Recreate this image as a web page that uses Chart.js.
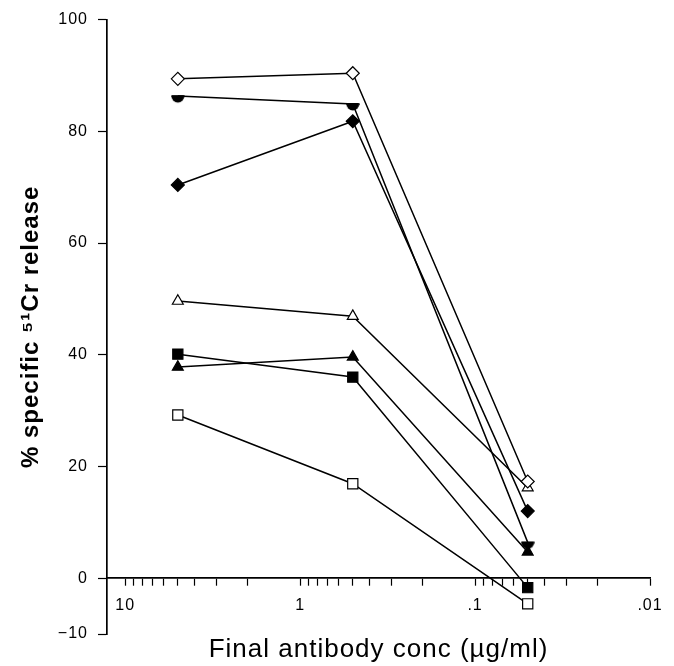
<!DOCTYPE html>
<html>
<head>
<meta charset="utf-8">
<script src="https://cdn.jsdelivr.net/npm/chart.js@4/dist/chart.umd.min.js"></script>
<style>
html,body{margin:0;padding:0;background:#fff;}
#wrap{width:674px;height:666px;position:relative;}
</style>
</head>
<body>
<div id="wrap"><canvas id="c"></canvas></div>
<script>
// ---- data ----
const concentrations = [5, 0.5, 0.05];               // µg/ml
const openDiamond    = [89.4, 90.4, 17.3];
const halfCircle     = [86.3, 84.9, 6.4];
const filledDiamond  = [70.4, 81.8, 12.0];
const openTriangle   = [49.6, 46.9, 16.2];
const filledSquare   = [40.1, 36.0, -1.7];
const filledTriangle = [37.8, 39.6, 4.7];
const openSquare     = [29.2, 16.9, -4.6];

const xMajorTicks = [10, 1, 0.1, 0.01];
const xMajorTickLabels = ['10', '1', '.1', '.01'];
const xMinorTicks = [9, 8, 7, 6, 5, 4, 3, 2, 0.9, 0.8, 0.7, 0.6, 0.5, 0.4, 0.3, 0.2,
                     0.09, 0.08, 0.07, 0.06, 0.05, 0.04, 0.03, 0.02];
const yTickValues = [-10, 0, 20, 40, 60, 80, 100];
const yTickLabels = ['\u221210', '0', '20', '40', '60', '80', '100'];

const xTitle = 'Final antibody conc (\u00b5g/ml)';
const yTitle = '% specific \u2075\u00b9Cr release';

// ---- custom half-filled circle marker ----
function halfCircleMarker() {
  const c = document.createElement('canvas');
  c.width = 14; c.height = 16;
  const g = c.getContext('2d');
  g.fillStyle = '#000';
  g.beginPath();
  g.moveTo(0.5, 8);
  g.lineTo(13.5, 8);
  g.arc(7, 8, 6.5, 0, Math.PI);
  g.closePath();
  g.fill();
  g.fillRect(0.5, 7, 13, 2);
  return c;
}

const FONT = '"Liberation Sans", Arial, Helvetica, sans-serif';
const pts = vals => concentrations.map((x, i) => ({x: x, y: vals[i]}));

function ds(label, vals, style, radius, filled) {
  return {
    label: label,
    data: pts(vals),
    borderColor: '#000',
    borderWidth: 1.5,
    pointStyle: style,
    pointRadius: radius,
    pointHoverRadius: radius,
    pointBackgroundColor: filled ? '#000' : '#fff',
    pointBorderColor: '#000',
    pointBorderWidth: 1.2,
    fill: false,
    tension: 0
  };
}

const semi = halfCircleMarker();

// wider letter spacing like the typeset original
const spacingPlugin = {
  id: 'spacing',
  beforeLayout(chart) { chart.ctx.letterSpacing = '1px'; },
  beforeDraw(chart) { chart.ctx.letterSpacing = '1px'; }
};

new Chart(document.getElementById('c'), {
  type: 'line',
  plugins: [spacingPlugin],
  data: {
    datasets: [
      ds('open diamond', openDiamond, 'rectRot', 6.5, false),
      ds('half circle', halfCircle, semi, 7, true),
      ds('filled diamond', filledDiamond, 'rectRot', 6.5, true),
      ds('open triangle', openTriangle, 'triangle', 6.3, false),
      ds('filled square', filledSquare, 'rect', 7.2, true),
      ds('filled triangle', filledTriangle, 'triangle', 6.3, true),
      ds('open square', openSquare, 'rect', 7.2, false)
    ]
  },
  options: {
    responsive: true,
    maintainAspectRatio: false,
    animation: false,
    devicePixelRatio: 1,
    layout: {padding: {top: 19, right: 24, left: 0, bottom: 0}},
    plugins: {legend: {display: false}, tooltip: {enabled: false}},
    scales: {
      x: {
        type: 'logarithmic',
        reverse: true,
        min: 0.01,
        max: 12.7,
        position: {y: 0},
        afterFit: s => { s.height = 0; },
        afterBuildTicks: s => {
          const all = xMajorTicks.concat(xMinorTicks).sort((a, b) => b - a);
          s.ticks = all.map(v => ({value: v, major: xMajorTicks.includes(v)}));
        },
        ticks: {
          autoSkip: false, maxRotation: 0, minRotation: 0,
          padding: 11, color: '#000',
          font: {family: FONT, size: 16},
          callback: v => { const i = xMajorTicks.indexOf(v); return i >= 0 ? xMajorTickLabels[i] : ''; }
        },
        grid: {drawOnChartArea: false, drawTicks: true, tickLength: 7, tickColor: '#000', tickWidth: 1.2},
        border: {display: true, color: '#000', width: 1.7}
      },
      xTitle: {
        type: 'logarithmic',
        reverse: true,
        min: 0.01,
        max: 12.7,
        position: 'bottom',
        afterFit: s => { s.height = 32; },
        grid: {display: false},
        border: {display: false},
        ticks: {display: false},
        title: {
          display: true, text: xTitle, color: '#000',
          font: {family: FONT, size: 26},
          padding: {top: 0, bottom: 1}
        }
      },
      y: {
        type: 'linear',
        min: -10,
        max: 100,
        position: 'left',
        afterFit: s => { s.width = 107; },
        afterBuildTicks: s => { s.ticks = yTickValues.map(v => ({value: v})); },
        ticks: {
          padding: 10, color: '#000',
          font: {family: FONT, size: 16},
          callback: v => yTickLabels[yTickValues.indexOf(v)]
        },
        grid: {drawOnChartArea: false, drawTicks: true, tickLength: 9, tickColor: '#000', tickWidth: 1.2},
        border: {display: true, color: '#000', width: 1.7},
        title: {
          display: true, text: yTitle, color: '#000',
          font: {family: FONT, size: 24, weight: 'bold'},
          padding: {top: 17, bottom: 0}
        }
      }
    }
  }
});
</script>
</body>
</html>
